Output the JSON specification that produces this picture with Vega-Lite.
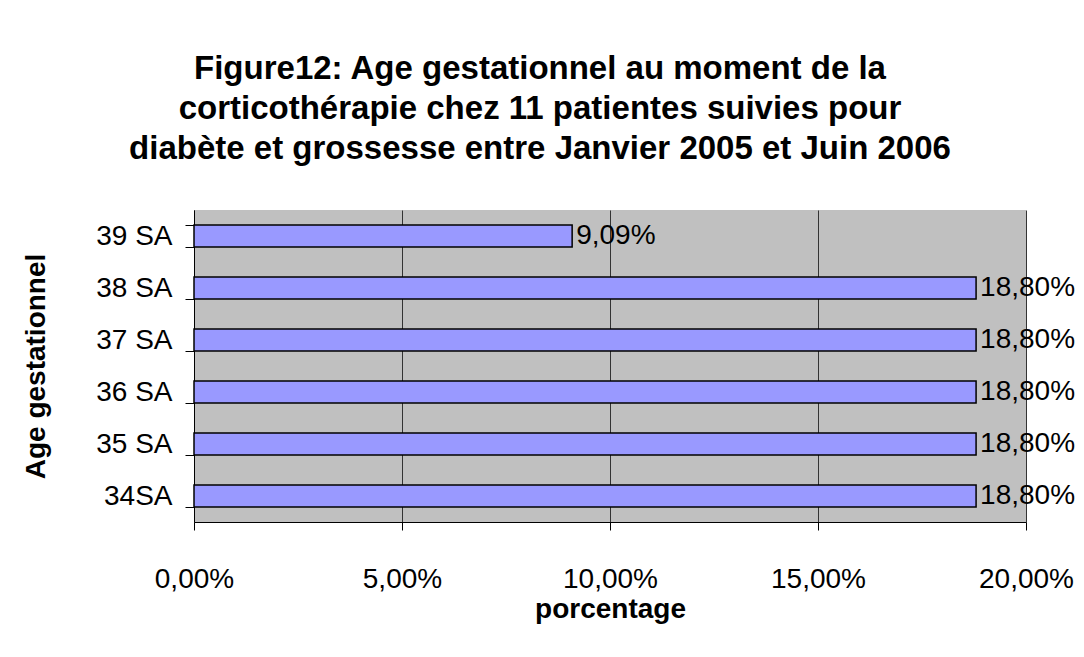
{
  "$schema": "https://vega.github.io/schema/vega-lite/v6.json",
  "width": 832,
  "height": 312,
  "autosize": {"type": "none"},
  "padding": {"left": 194, "top": 210, "right": 58, "bottom": 135},
  "background": "white",
  "title": {
    "text": ["Figure12: Age gestationnel au moment de la", "corticothérapie chez 11 patientes suivies pour", "diabète et grossesse entre Janvier 2005 et Juin 2006"],
    "font": "Liberation Sans",
    "fontSize": 33,
    "fontWeight": "bold",
    "color": "black",
    "lineHeight": 40,
    "anchor": "middle",
    "dx": -70,
    "offset": 30
  },
  "data": {
    "values": [
      {"age": "39 SA", "pct": 9.09},
      {"age": "38 SA", "pct": 18.8},
      {"age": "37 SA", "pct": 18.8},
      {"age": "36 SA", "pct": 18.8},
      {"age": "35 SA", "pct": 18.8},
      {"age": "34SA", "pct": 18.8}
    ]
  },
  "config": {
    "view": {"fill": "#C0C0C0", "stroke": null},
    "font": "Liberation Sans"
  },
  "encoding": {
    "y": {
      "field": "age",
      "type": "nominal",
      "sort": ["39 SA", "38 SA", "37 SA", "36 SA", "35 SA", "34SA"],
      "scale": {"paddingInner": 0.58, "paddingOuter": 0.29},
      "axis": {
        "title": "Age gestationnel",
        "titleFont": "Liberation Sans",
        "titleFontSize": 28,
        "titleFontWeight": "bold",
        "titleColor": "black",
        "titlePadding": 45,
        "labelFont": "Liberation Sans",
        "labelFontSize": 28,
        "labelColor": "black",
        "labelPadding": 13,
        "tickBand": "extent",
        "tickSize": 9,
        "tickColor": "black",
        "domainColor": "black",
        "grid": false
      }
    }
  },
  "layer": [
    {
      "mark": {"type": "bar", "fill": "#9999FF", "stroke": "black", "strokeWidth": 1.5},
      "encoding": {
        "x": {
          "field": "pct",
          "type": "quantitative",
          "scale": {"domain": [0, 20], "nice": false},
          "axis": {
            "values": [0, 5, 10, 15, 20],
            "labelExpr": "replace(format(datum.value, '.2f'), '.', ',') + '%'",
            "labelFlush": false,
            "labelOverlap": false,
            "title": "porcentage",
            "titleFont": "Liberation Sans",
            "titleFontSize": 28,
            "titleFontWeight": "bold",
            "titleColor": "black",
            "titlePadding": 2,
            "labelFont": "Liberation Sans",
            "labelFontSize": 28,
            "labelColor": "black",
            "labelPadding": 35,
            "tickSize": 8,
            "tickColor": "black",
            "domainColor": "black",
            "grid": true,
            "gridColor": "#333333",
            "gridWidth": 1
          }
        }
      }
    },
    {
      "mark": {"type": "text", "align": "left", "baseline": "middle", "dx": 4, "font": "Liberation Sans", "fontSize": 28, "color": "black"},
      "encoding": {
        "x": {"field": "pct", "type": "quantitative"},
        "text": {"field": "label"}
      },
      "transform": [
        {"calculate": "replace(format(datum.pct, '.2f'), '.', ',') + '%'", "as": "label"}
      ]
    }
  ]
}
